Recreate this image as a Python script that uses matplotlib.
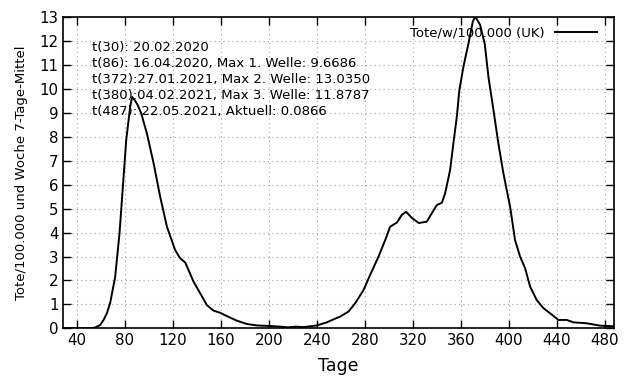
import matplotlib
matplotlib.use("Agg")
import matplotlib.pyplot as plt
import numpy as np

# Data (day index, deaths per 100k per week, 7-day mean)
days = [29, 40, 45, 51, 55, 59.4, 62.2, 65, 67.8, 71.9, 75.5, 78.3, 81.1, 84.4, 86,
        88, 90.5, 93.5, 98.3, 103.9, 109.4, 115, 121.9, 126, 130.3, 133, 137.2, 142.8,
        148.3, 153.9, 159.4, 165, 173.3, 181.7, 190, 199.7, 209.4, 216, 222, 229,
        240, 248.3, 256, 259.4, 266.4, 272, 278.9, 284.4, 291.4, 297, 301.1, 306.7,
        310.8, 314.4, 319.5, 325, 331.7, 335.8, 340, 344.2, 346.9, 351.1, 353.8,
        356.7, 358.8, 362.2, 366.4, 370, 372, 376.1, 380, 383, 387.2, 391.3, 395.5,
        401.1, 405.2, 409.4, 413.6, 417.8, 423.3, 428.9, 434.4, 441.4, 448.3, 453.9,
        465, 476.1, 487]
values = [0.0, 0.0, 0.0, 0.0, 0.03, 0.14, 0.35, 0.63, 1.08, 2.16, 3.97, 5.92, 7.87, 9.26, 9.6686,
          9.55, 9.35, 9.0, 8.15, 6.9, 5.5, 4.25, 3.27, 2.93, 2.75, 2.44, 1.95, 1.46,
          0.97, 0.74, 0.65, 0.51, 0.32, 0.18, 0.12, 0.1, 0.07, 0.04, 0.07, 0.05,
          0.12, 0.25, 0.42, 0.49, 0.7, 1.05, 1.6, 2.23, 3.0, 3.69, 4.25, 4.42,
          4.74, 4.87, 4.6, 4.4, 4.46, 4.81, 5.15, 5.25, 5.64, 6.62, 7.73,
          8.85, 9.96, 10.94, 11.91, 12.82, 13.035, 12.68, 11.8787, 10.52, 9.13, 7.73, 6.48,
          5.08, 3.69, 3.0, 2.51, 1.74, 1.18, 0.84, 0.63, 0.35, 0.35, 0.25,
          0.21, 0.11, 0.0866]

x_ticks = [40, 80, 120, 160, 200, 240, 280, 320, 360, 400, 440, 480]
y_ticks = list(range(0, 14))

series_label = "Tote/w/100.000 (UK)"
info_lines = [
    "t(30): 20.02.2020",
    "t(86): 16.04.2020, Max 1. Welle: 9.6686",
    "t(372):27.01.2021, Max 2. Welle: 13.0350",
    "t(380):04.02.2021, Max 3. Welle: 11.8787",
    "t(487): 22.05.2021, Aktuell: 0.0866",
]

plt.rcParams['font.family'] = ['DejaVu Sans']
fig = plt.figure(figsize=(6.4, 3.84), dpi=100)
ax = fig.add_axes([0.0992, 0.145, 0.959 - 0.0992, 0.955 - 0.145])

ax.plot(days, values, color='black', linewidth=1.4, label=series_label)

ax.set_xlim(28.8, 487.5)
ax.set_ylim(0, 13)
ax.set_xticks(x_ticks)
ax.set_yticks(y_ticks)
ax.tick_params(direction='in', length=6, width=1, top=True, right=True,
               labelsize=10.8)
ax.grid(True, color='#a0a0a0', linestyle=(0, (1, 3)), linewidth=0.8)
for s in ax.spines.values():
    s.set_linewidth(1.2)

ax.set_xlabel("Tage", fontsize=12.5, labelpad=6)
ax.set_ylabel("Tote/100.000 und Woche 7-Tage-Mittel", fontsize=9.5, labelpad=8)

ax.text(0.052, 0.925, "\n".join(info_lines), transform=ax.transAxes,
        fontsize=9.5, va='top', ha='left', linespacing=1.3)

leg = ax.legend(loc='upper right', bbox_to_anchor=(0.987, 1.0), frameon=False,
                markerfirst=False, fontsize=9.5, handlelength=3.2,
                borderaxespad=0.3)

fig.savefig("out.png", dpi=100)
